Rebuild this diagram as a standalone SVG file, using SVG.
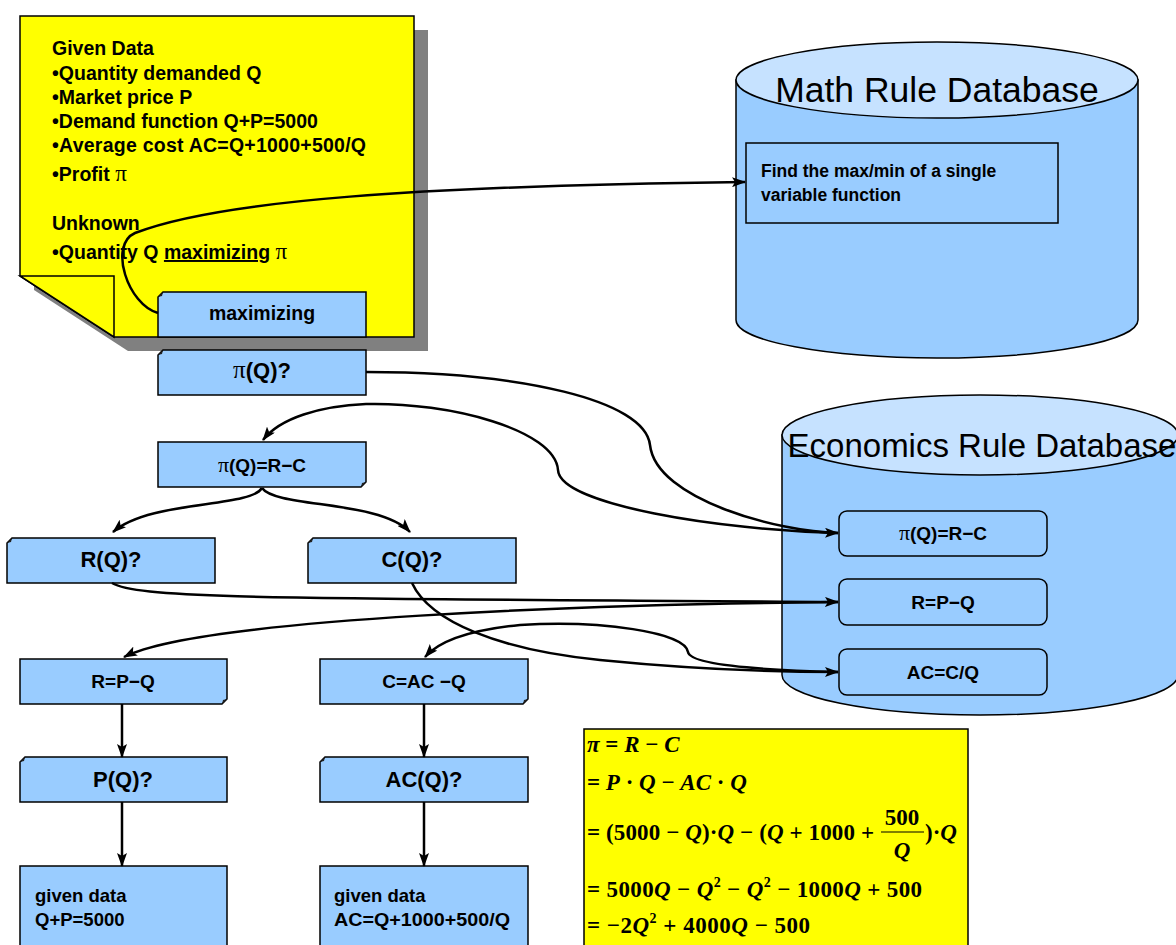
<svg xmlns="http://www.w3.org/2000/svg" width="1176" height="945" viewBox="0 0 1176 945">
<style>
.b{font-family:"Liberation Sans",Arial,sans-serif;font-weight:bold;fill:#000}
.n{font-family:"Liberation Sans",Arial,sans-serif;fill:#000}
.s{font-family:"Liberation Serif","Times New Roman",serif}
.box{fill:#99CCFF;stroke:#000;stroke-width:1.5}
.curl{fill:#222}
.cyl{fill:#99CCFF;stroke:#000;stroke-width:1.5}
.cyltop{fill:#C6E2FF;stroke:#000;stroke-width:1.5}
.conn{fill:none;stroke:#000;stroke-width:2.5;marker-end:url(#ah)}
.m{font-family:"Liberation Serif","Times New Roman",serif;font-weight:bold;font-size:23px}
.i{font-style:italic}
</style>
<defs>
<marker id="ah" viewBox="0 0 14 10" refX="13" refY="5" markerWidth="14" markerHeight="10" markerUnits="userSpaceOnUse" orient="auto">
<path d="M0,0 L14,5 L0,10 L3,5 z" fill="#000"/>
</marker>
</defs>
<rect width="1176" height="945" fill="#fff"/>

<g id="note">
<polygon points="34,30 428,30 428,351 128,351 34,290" fill="#808080"/>
<polygon points="20,16 414,16 414,337 114,337 20,276" fill="#FFFF00" stroke="#000" stroke-width="1.5"/>
<polygon points="20,276 114,276 114,337" fill="#FFFF00" stroke="#000" stroke-width="1.5"/>
<g class="b" font-size="19.5">
<text x="52" y="55">Given Data</text>
<text x="52" y="80">•Quantity demanded Q</text>
<text x="52" y="104">•Market price P</text>
<text x="52" y="128">•Demand function Q+P=5000</text>
<text x="52" y="152" textLength="314" lengthAdjust="spacing">•Average cost AC=Q+1000+500/Q</text>
<text x="52" y="181">•Profit <tspan class="s" font-size="23" font-weight="normal">π</tspan></text>
<text x="52" y="230">Unknown</text>
<text x="52" y="259">•Quantity Q <tspan text-decoration="underline">maximizing</tspan> <tspan class="s" font-size="23" font-weight="normal">π</tspan></text>
</g>
</g>

<g id="math-db">
<path class="cyl" d="M736,80 L736,320 A201,38 0 0 0 1138,320 L1138,80 Z"/>
<ellipse class="cyltop" cx="937" cy="80" rx="201" ry="38"/>
<text class="n" x="937" y="102" font-size="35.5" text-anchor="middle">Math Rule Database</text>
<rect class="box" x="746" y="143" width="312" height="80"/>
<text class="b" x="761" y="177" font-size="17.5">Find the max/min of a single</text>
<text class="b" x="761" y="201" font-size="17.5">variable function</text>
</g>

<g id="econ-db">
<path class="cyl" d="M782,435 L782,675 A198,40 0 0 0 1178,675 L1178,435 Z"/>
<ellipse class="cyltop" cx="980" cy="435" rx="198" ry="40"/>
<text class="n" x="982" y="457" font-size="33" text-anchor="middle">Economics Rule Database</text>
</g>
<g id="db-pi">
<rect class="box" x="839" y="511" width="208" height="45" rx="8"/>
<text class="b" x="943" y="540" font-size="19" text-anchor="middle"><tspan class="s" font-size="22" font-weight="normal">π</tspan>(Q)=R−C</text>
</g>
<g id="db-r">
<rect class="box" x="839" y="579" width="208" height="46" rx="8"/>
<text class="b" x="943" y="609" font-size="19" text-anchor="middle">R=P−Q</text>
</g>
<g id="db-ac">
<rect class="box" x="839" y="649" width="208" height="46" rx="8"/>
<text class="b" x="943" y="679" font-size="19" text-anchor="middle">AC=C/Q</text>
</g>

<g id="maximizing">
<polygon class="box" points="163,292 366,292 366,337 158,337 158,297"/>
<path class="curl" d="M158,297 L163,292 L162,296 z"/>
<text class="b" x="262" y="320" font-size="19.5" text-anchor="middle">maximizing</text>
</g>
<g id="pi-q">
<polygon class="box" points="163,350 366,350 366,395 158,395 158,355"/>
<path class="curl" d="M158,355 L163,350 L162,354 z"/>
<text class="b" x="262" y="378" font-size="22" text-anchor="middle"><tspan class="s" font-size="25" font-weight="normal">π</tspan>(Q)?</text>
</g>
<g id="pi-rc">
<polygon class="box" points="158,442 366,442 366,482 361,487 158,487"/>
<path class="curl" d="M366,482 L361,487 L362,483 z"/>
<text class="b" x="262" y="472" font-size="19" text-anchor="middle"><tspan class="s" font-size="22" font-weight="normal">π</tspan>(Q)=R−C</text>
</g>
<g id="r-q">
<polygon class="box" points="12,538 215,538 215,583 7,583 7,543"/>
<path class="curl" d="M7,543 L12,538 L11,542 z"/>
<text class="b" x="111" y="567" font-size="22" text-anchor="middle">R(Q)?</text>
</g>
<g id="c-q">
<polygon class="box" points="313,538 516,538 516,583 308,583 308,543"/>
<path class="curl" d="M308,543 L313,538 L312,542 z"/>
<text class="b" x="412" y="567" font-size="22" text-anchor="middle">C(Q)?</text>
</g>
<g id="r-pq">
<polygon class="box" points="20,659 227,659 227,699 222,704 20,704"/>
<path class="curl" d="M227,699 L222,704 L223,700 z"/>
<text class="b" x="123" y="688" font-size="19" text-anchor="middle">R=P−Q</text>
</g>
<g id="c-acq">
<polygon class="box" points="320,659 528,659 528,699 523,704 320,704"/>
<path class="curl" d="M528,699 L523,704 L524,700 z"/>
<text class="b" x="424" y="688" font-size="19" text-anchor="middle">C=AC −Q</text>
</g>
<g id="p-q">
<polygon class="box" points="25,757 227,757 227,802 20,802 20,762"/>
<path class="curl" d="M20,762 L25,757 L24,761 z"/>
<text class="b" x="123" y="787" font-size="22" text-anchor="middle">P(Q)?</text>
</g>
<g id="ac-q">
<polygon class="box" points="325,757 528,757 528,802 320,802 320,762"/>
<path class="curl" d="M320,762 L325,757 L324,761 z"/>
<text class="b" x="424" y="787" font-size="22" text-anchor="middle">AC(Q)?</text>
</g>
<g id="given-p">
<rect class="box" x="20" y="866" width="207" height="90"/>
<text class="b" x="35" y="902" font-size="18.5">given data</text>
<text class="b" x="35" y="926" font-size="18.5">Q+P=5000</text>
</g>
<g id="given-ac">
<rect class="box" x="320" y="866" width="208" height="90"/>
<text class="b" x="334" y="902" font-size="18.5">given data</text>
<text class="b" x="334" y="926" font-size="18.5" textLength="176" lengthAdjust="spacingAndGlyphs">AC=Q+1000+500/Q</text>
</g>

<g id="derivation">
<rect x="584" y="729" width="384" height="230" fill="#FFFF00" stroke="#000" stroke-width="1.5"/>
<text class="m" x="587" y="752"><tspan class="i">π</tspan> = <tspan class="i">R</tspan> − <tspan class="i">C</tspan></text>
<text class="m" x="587" y="790">= <tspan class="i">P</tspan> · <tspan class="i">Q</tspan> − <tspan class="i">AC</tspan> · <tspan class="i">Q</tspan></text>
<text class="m" x="587" y="840" textLength="287" lengthAdjust="spacing">= (5000 − <tspan class="i">Q</tspan>)·<tspan class="i">Q</tspan> − (<tspan class="i">Q</tspan> + 1000 +</text>
<text class="m" x="902" y="825" text-anchor="middle">500</text>
<line x1="881" y1="832" x2="924" y2="832" stroke="#000" stroke-width="1.2"/>
<text class="m" x="902" y="858" text-anchor="middle"><tspan class="i">Q</tspan></text>
<text class="m" x="925" y="840">)·<tspan class="i">Q</tspan></text>
<text class="m" x="587" y="897" textLength="335" lengthAdjust="spacing">= 5000<tspan class="i">Q</tspan> − <tspan class="i">Q</tspan><tspan font-size="14" dy="-10">2</tspan><tspan dy="10"> − </tspan><tspan class="i">Q</tspan><tspan font-size="14" dy="-10">2</tspan><tspan dy="10"> − 1000</tspan><tspan class="i">Q</tspan> + 500</text>
<text class="m" x="587" y="933" textLength="223" lengthAdjust="spacing">= −2<tspan class="i">Q</tspan><tspan font-size="14" dy="-10">2</tspan><tspan dy="10"> + 4000</tspan><tspan class="i">Q</tspan> − 500</text>
</g>

<g id="connectors">
<path class="conn" d="M158,313 C128,305 108,245 135,233 C220,200 420,186 745,182"/>
<path class="conn" d="M366,372 C520,372 645,400 650,445 C656,500 780,532 838,533"/>
<path class="conn" d="M838,533 C720,530 560,505 558,470 C555,430 450,402 366,404 C320,406 280,418 263,440"/>
<path class="conn" d="M262,488 C250,508 150,500 113,532"/>
<path class="conn" d="M262,488 C276,508 380,500 410,532"/>
<path class="conn" d="M112,583 C140,600 300,598 838,602"/>
<path class="conn" d="M838,602 C600,604 200,618 124,657"/>
<path class="conn" d="M412,583 C430,622 500,650 600,660 C700,670 780,672 838,672"/>
<path class="conn" d="M838,672 C760,670 690,665 688,652 C685,632 600,620 520,625 C470,630 440,640 425,657"/>
<path class="conn" d="M122,704 L122,757"/>
<path class="conn" d="M122,802 L122,866"/>
<path class="conn" d="M424,704 L424,757"/>
<path class="conn" d="M424,802 L424,866"/>
</g>
</svg>
